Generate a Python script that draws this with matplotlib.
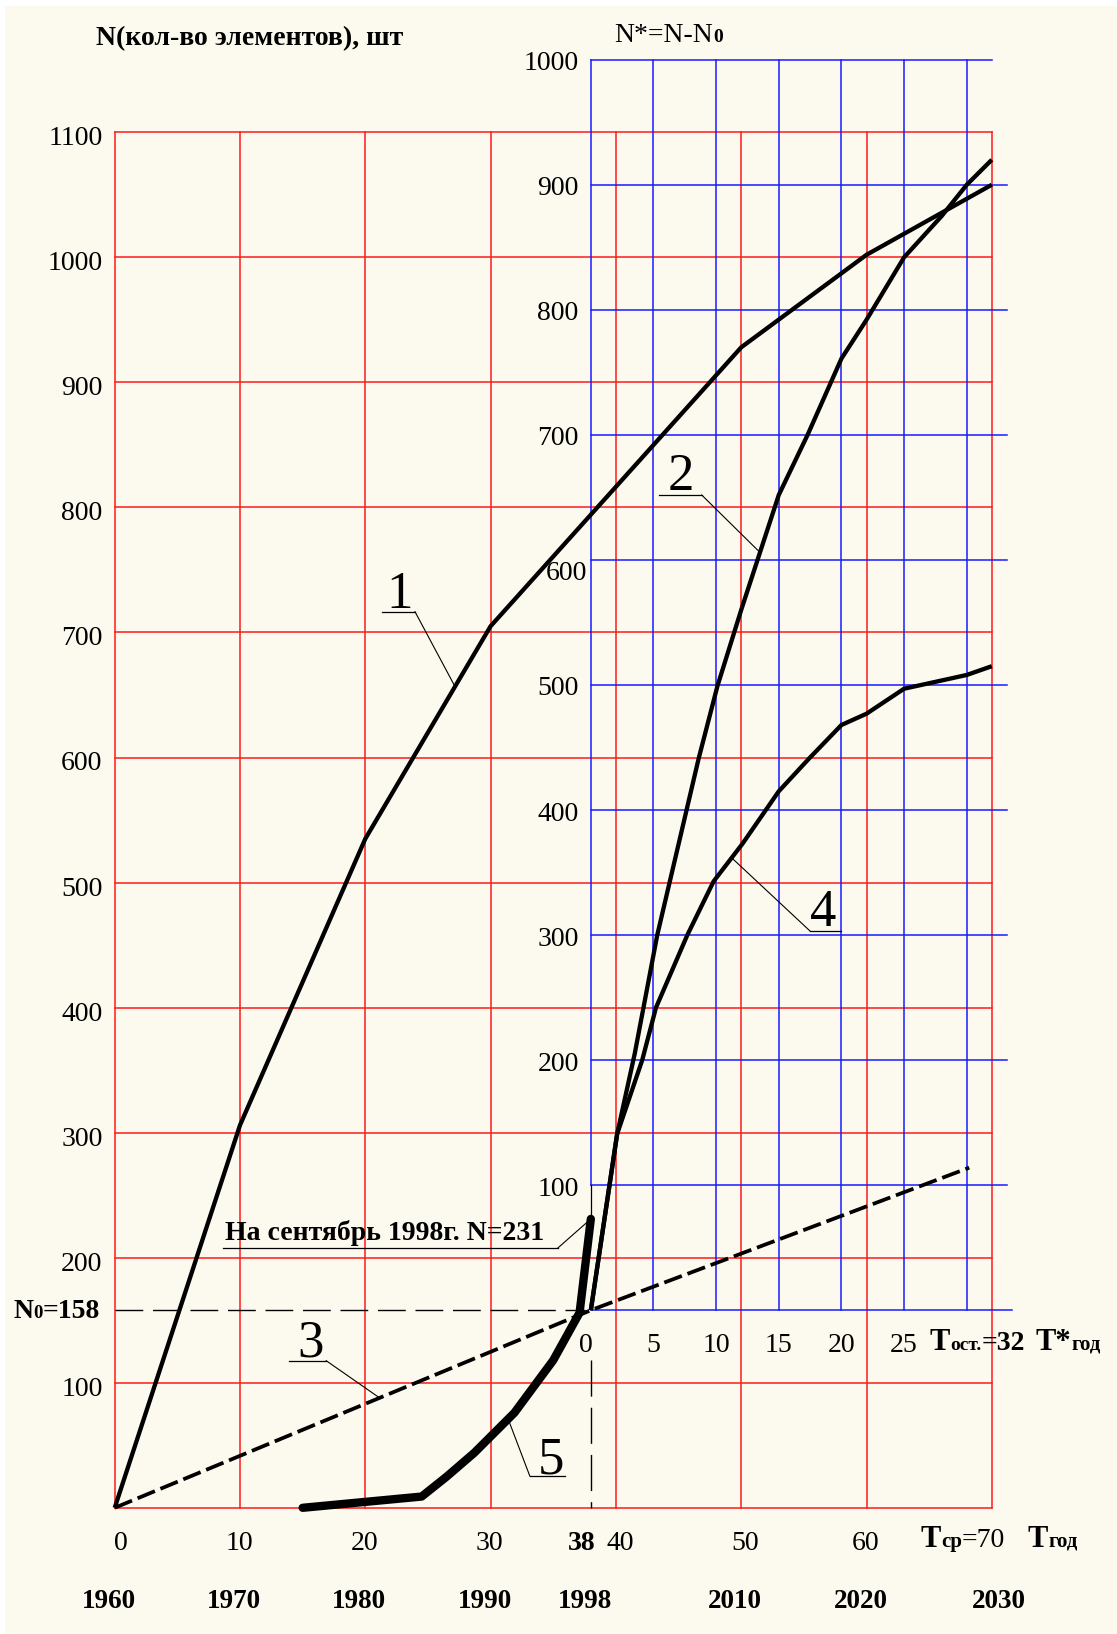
import numpy as np
import matplotlib
matplotlib.use("Agg")
import matplotlib.pyplot as plt
from matplotlib.patches import Rectangle
from matplotlib.transforms import IdentityTransform

# 1. Data
# T - years since 1960, N - number of elements
N0 = 158          # elements in 1998
T0 = 38           # 1998 on the T axis
T_REST = 32       # T*ост
T_MEAN = 70       # Tср

curve1_T = [0, 10, 20, 30, 50, 60, 70]
curve1_N = [0, 306, 535, 705, 928, 1002, 1058]

# curves 2 and 4 are on the blue scale: T* = T - 38, N* = N - N0
curve2_Ts = [0, 2.1, 3.5, 5.3, 8.6, 10.1, 12, 15, 17.3, 20, 22, 25, 28, 30, 32]
curve2_Ns = [0, 141, 205, 300, 441, 499, 560, 652, 700, 761, 792, 842, 875, 900, 920]

curve4_Ts = [0, 2.1, 4.1, 5.2, 7.7, 9.8, 12.1, 15, 17.4, 20, 22, 25, 30, 32]
curve4_Ns = [0, 141, 200, 242, 300, 343, 373, 415, 441, 468, 477, 497, 508, 515]

curve3_T = [0, 38, 60, 68.2]
curve3_N = [0, 158, 241, 272]

curve5_T = [15, 24.5, 26.5, 28.7, 31.9, 35, 37.1, 38]
curve5_N = [0, 9, 25, 44, 76, 118, 156, 231]

red_T_ticks = [0, 10, 20, 30, 40, 50, 60, 70]
red_N_ticks = [0, 100, 200, 300, 400, 500, 600, 700, 800, 900, 1000, 1100]
blue_T_ticks = [0, 5, 10, 15, 20, 25, 30]
blue_N_ticks = [0, 100, 200, 300, 400, 500, 600, 700, 800, 900, 1000]
years = [1960, 1970, 1980, 1990, 1998, 2010, 2020, 2030]
T_labels = [0, 10, 20, 30, 38, 40, 50, 60]

# 2. Canvas: pixel mapping of the red grid
W, H = 1117, 1634
X0, SX = 114.7, 12.53      # px of T=0, px per year
Y0, SY = 1507.8, 1.2505    # px of N=0 (from top), px per element

def px_x(t):
    return X0 + SX * t

def px_y(n):
    return Y0 - SY * n

def dat_t(px):
    return (px - X0) / SX

def dat_n(py):
    return (Y0 - py) / SY

SERIF = "Liberation Serif"
RED = "#ff1a1a"
BLUE = "#1a1aff"
CREAM = "#fcfaee"
TICK = 20

fig = plt.figure(figsize=(W / 100, H / 100), dpi=100, facecolor="white")
fig.patches.append(Rectangle((5, 0), W - 5, H - 6, transform=IdentityTransform(),
                             facecolor=CREAM, edgecolor="none", zorder=-10))
ax = fig.add_axes([0, 0, 1, 1])
ax.set_xlim(dat_t(0), dat_t(W))
ax.set_ylim(dat_n(H), dat_n(0))
ax.axis("off")
ax.patch.set_alpha(0)
renderer = fig.canvas.get_renderer()


def rich(x, y, parts, ha="left"):
    # parts: (text, size, weight), placed side by side on one baseline (y px from top)
    texts, widths = [], []
    for s, size, weight in parts:
        t = fig.text(0, 0, s, fontsize=size, fontweight=weight, family=SERIF,
                     transform=IdentityTransform(), va="baseline", ha="left", zorder=6)
        texts.append(t)
        widths.append(t.get_window_extent(renderer).width)
    x0 = x - sum(widths) if ha == "right" else (x - sum(widths) / 2 if ha == "center" else x)
    for t, w in zip(texts, widths):
        t.set_position((x0, H - y))
        x0 += w


def label(x, y, s, size=TICK, weight="normal", ha="center"):
    fig.text(x, H - y, s, fontsize=size, fontweight=weight, family=SERIF,
             transform=IdentityTransform(), va="baseline", ha=ha, zorder=6)


# 3. Red grid (T, N)
for n in red_N_ticks:
    ax.plot([0, T_MEAN], [n, n], color=RED, lw=1.1, zorder=1)
for t in red_T_ticks:
    ax.plot([t, t], [0, 1100], color=RED, lw=1.1, zorder=1)

# 4. Blue grid (T*, N*)
for n in blue_N_ticks:
    right = T_REST if n == 1000 else (T_REST + 1.6 if n == 0 else T_REST + 1.2)
    ax.plot([T0, T0 + right], [N0 + n, N0 + n], color=BLUE, lw=1.1, zorder=2)
for t in blue_T_ticks:
    bottom = 100 if t == 0 else 0
    ax.plot([T0 + t, T0 + t], [N0 + bottom, N0 + 1000], color=BLUE, lw=1.1, zorder=2)
ax.plot([T0, T0], [N0 + 100, 231], color="black", lw=0.9, zorder=2)

# 5. Helper dashed lines
ax.plot([0, 37.5], [N0, N0], color="black", lw=1.0, dashes=(20, 7), zorder=3)
ax.plot([T0, T0], [118, 0], color="black", lw=1.0, dashes=(26, 8), zorder=3)

# 6. Curves
c2_T = np.array(curve2_Ts) + T0
c2_N = np.array(curve2_Ns) + N0
c4_T = np.array(curve4_Ts) + T0
c4_N = np.array(curve4_Ns) + N0
ax.plot(curve1_T, curve1_N, color="black", lw=3.1, zorder=4, solid_capstyle="butt")
ax.plot(c2_T, c2_N, color="black", lw=3.1, zorder=4, solid_capstyle="butt")
ax.plot(c4_T, c4_N, color="black", lw=3.1, zorder=4, solid_capstyle="butt")
ax.plot(curve3_T, curve3_N, color="black", lw=2.7, dashes=(5, 1.6), zorder=4)
ax.plot(curve5_T, curve5_N, color="black", lw=6, zorder=4, solid_capstyle="round")

# 7. Curve numbers with underline and leader
def tag(num, cx, base, ul_left, ul_right, ul_y, lead_from, lead_T, xs, ys):
    label(cx, base, num, size=38)
    ax.plot([dat_t(ul_left), dat_t(ul_right)], [dat_n(ul_y), dat_n(ul_y)], color="black", lw=0.9, zorder=5)
    ax.plot([dat_t(lead_from), lead_T], [dat_n(ul_y), np.interp(lead_T, xs, ys)],
            color="black", lw=0.8, zorder=5)

tag("1", 400, 608, 381.7, 415, 611.7, 415, 27.16, curve1_T, curve1_N)
tag("2", 681, 490, 659.3, 701.7, 495, 701.7, 51.5, c2_T, c2_N)
tag("4", 823, 926.5, 810, 841, 931, 810, 49.24, c4_T, c4_N)
tag("3", 310.4, 1356.5, 288.6, 326.2, 1360.7, 326.2, 21.14, curve3_T, curve3_N)
tag("5", 550.6, 1473, 529.8, 565.4, 1476, 529.8, 31.4, curve5_T, curve5_N)

# note about September 1998
rich(225.4, 1240, [("На сентябрь 1998г. N=231", 20, "bold")])
ax.plot([dat_t(222.6), dat_t(557.5)], [dat_n(1248.3)] * 2, color="black", lw=0.9, zorder=5)
ax.plot([dat_t(557.5), curve5_T[-1]], [dat_n(1248.3), curve5_N[-1]], color="black", lw=0.8, zorder=5)

# 8. Axis labels: red scale
for n in red_N_ticks[1:]:
    label(102.6, px_y(n) + 13, str(n), ha="right")
rich(100, px_y(N0) + 8, [("N", 20, "bold"), ("0", 13.5, "bold"), ("=158", 20, "bold")], ha="right")

t_shift = {0: 6, 38: -9, 40: 4, 50: 4}
for t in T_labels:
    label(px_x(t) + t_shift.get(t, -1), 1550, str(t), weight="bold" if t == T0 else "normal")
rich(920.5, 1547, [("T", 22, "bold"), ("ср", 15, "bold"), ("=" + str(T_MEAN), 20, "normal")])
rich(1028, 1547, [("T", 22, "bold"), ("год", 15, "bold")])

for y in years:
    t = y - years[0]
    label(px_x(t) + (7 if t == T_MEAN else -6), 1608, str(y), size=19.5, weight="bold")

# blue scale
for n in blue_N_ticks[1:]:
    if n == 600:
        label(586.7, px_y(N0 + n) + 20.5, str(n), ha="right")
    else:
        label(578.7, px_y(N0 + n) + 10.5, str(n), ha="right")
for t in blue_T_ticks[:-1]:
    label(px_x(T0 + t) + (-5 if t == 0 else 0), 1351.5, str(t))
rich(930, 1349.5, [("T", 22, "bold"), ("ост.", 14, "bold"), ("=" + str(T_REST), 20, "bold")])
rich(1036, 1349.5, [("T*", 22, "bold"), ("год", 15, "bold")])

# titles
rich(96, 45, [("N(кол-во элементов), шт", 20, "bold")])
rich(614, 41.7, [("N*=N-N", 20, "normal"), ("0", 14, "bold")])

fig.savefig("out.png", dpi=100, facecolor=fig.get_facecolor())
